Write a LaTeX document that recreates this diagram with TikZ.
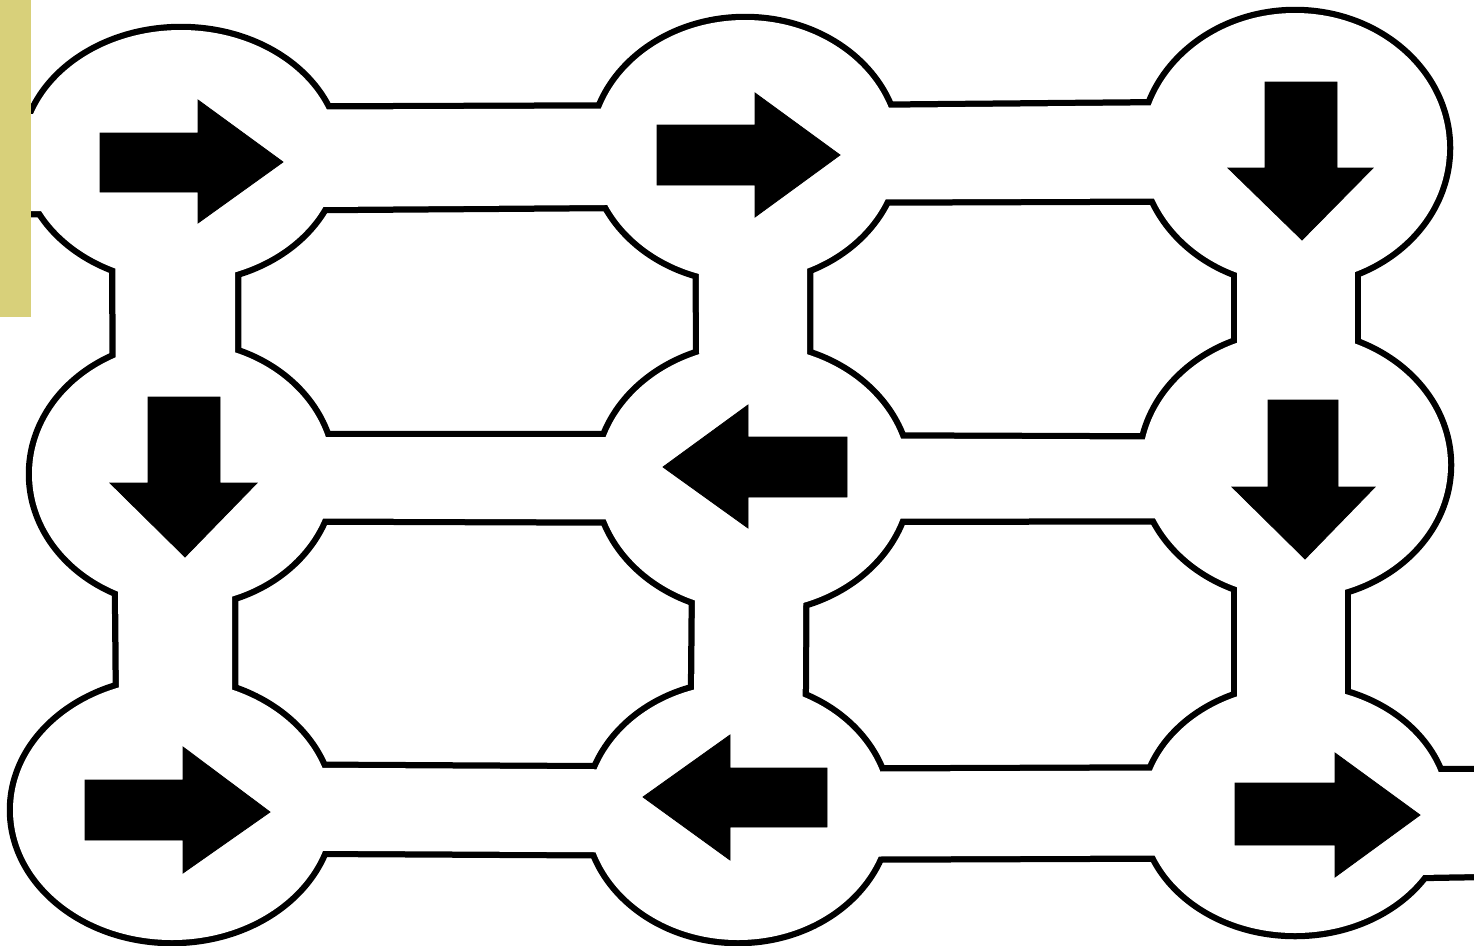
\documentclass[tikz,border=0pt]{standalone}
\usepackage{tikz}
\definecolor{strip}{RGB}{216,208,122}
\tikzset{
  outline/.style={draw=black,line width=12.5pt,line join=round},
  inside/.style={fill=white},
  arrowshape/.style={fill=black,draw=black,line width=0.8pt,line join=miter}
}
\newcommand\plan[1]{%
  % rooms
  \path[#1] (c11) ellipse [x radius=156.5, y radius=125];
  \path[#1] (c12) ellipse [x radius=152, y radius=130];
  \path[#1] (c13) ellipse [x radius=152, y radius=135];
  \path[#1] (c21) ellipse [x radius=150, y radius=130];
  \path[#1] (c22) ellipse [x radius=155, y radius=132];
  \path[#1] (c23) ellipse [x radius=153, y radius=132];
  \path[#1] (c31) ellipse [x radius=159, y radius=130];
  \path[#1] (c32) ellipse [x radius=150, y radius=128];
  \path[#1] (c33) ellipse [x radius=151, y radius=123];
  % horizontal corridors
  \path[#1] (-60,115) -- (181,113) -- (181,210) -- (-60,212) -- cycle;
  \path[#1] (181,110) -- (745,108) -- (745,204) -- (181,208) -- cycle;
  \path[#1] (745,109) -- (1295,104) -- (1295,198) -- (745,200) -- cycle;
  \path[#1] (182,437) -- (753,437) -- (753,520) -- (182,518) -- cycle;
  \path[#1] (753,438) -- (1295,440) -- (1295,518) -- (753,519) -- cycle;
  \path[#1] (172,767) -- (738,770) -- (738,853) -- (172,850) -- cycle;
  \path[#1] (738,772) -- (1295,770) -- (1295,855) -- (738,857) -- cycle;
  \path[#1] (1295,772) -- (1540,772) -- (1540,873) -- (1295,877) -- cycle;
  % vertical corridors
  \path[#1] (115,155) -- (235,155) -- (235,474) -- (116,474) -- cycle;
  \path[#1] (117,474) -- (232,474) -- (232,810) -- (120,810) -- cycle;
  \path[#1] (698,150) -- (807,150) -- (807,478) -- (700,478) -- cycle;
  \path[#1] (696,478) -- (804,478) -- (802,812) -- (693,812) -- cycle;
  \path[#1] (1237,148) -- (1355,148) -- (1355,465) -- (1237,465) -- cycle;
  \path[#1] (1237,465) -- (1345,465) -- (1345,810) -- (1237,810) -- cycle;
}
\begin{document}
\begin{tikzpicture}[x=1pt,y=-1pt]
  \useasboundingbox (0,0) rectangle (1474,945);
  \fill[white] (0,0) rectangle (1474,945);
  \coordinate (c11) at (181,155);
  \coordinate (c12) at (745,150);
  \coordinate (c13) at (1295,148);
  \coordinate (c21) at (182,474);
  \coordinate (c22) at (753,478);
  \coordinate (c23) at (1295,465);
  \coordinate (c31) at (172,810);
  \coordinate (c32) at (738,812);
  \coordinate (c33) at (1295,810);
  \begin{scope}
    \clip (0,0) rectangle (1474,945);
    \plan{outline}
    \plan{inside}
  \end{scope}
  % arrows
  \path[arrowshape] (100,133) -- (198,133) -- (198,100) -- (283,162) -- (198,223) -- (198,192) -- (100,192) -- cycle;
  \path[arrowshape] (657,125) -- (755,125) -- (755,93) -- (840,155) -- (755,217) -- (755,185) -- (657,185) -- cycle;
  \path[arrowshape] (1265,82) -- (1337,82) -- (1337,168) -- (1373,168) -- (1302,240) -- (1228,168) -- (1265,168) -- cycle;
  \path[arrowshape] (148,397) -- (220,397) -- (220,483) -- (257,483) -- (185,557) -- (110,483) -- (148,483) -- cycle;
  \path[arrowshape] (847,437) -- (748,437) -- (748,405) -- (663,467) -- (748,528) -- (748,497) -- (847,497) -- cycle;
  \path[arrowshape] (1268,400) -- (1338,400) -- (1338,487) -- (1375,487) -- (1305,559) -- (1232,487) -- (1268,487) -- cycle;
  \path[arrowshape] (85,780) -- (183,780) -- (183,747) -- (270,812) -- (183,873) -- (183,840) -- (85,840) -- cycle;
  \path[arrowshape] (827,768) -- (730,768) -- (730,735) -- (643,797) -- (730,860) -- (730,827) -- (827,827) -- cycle;
  \path[arrowshape] (1235,783) -- (1335,783) -- (1335,753) -- (1420,815) -- (1335,877) -- (1335,845) -- (1235,845) -- cycle;
  % yellow strip
  \fill[strip] (0,0) rectangle (31,317);
\end{tikzpicture}
\end{document}
